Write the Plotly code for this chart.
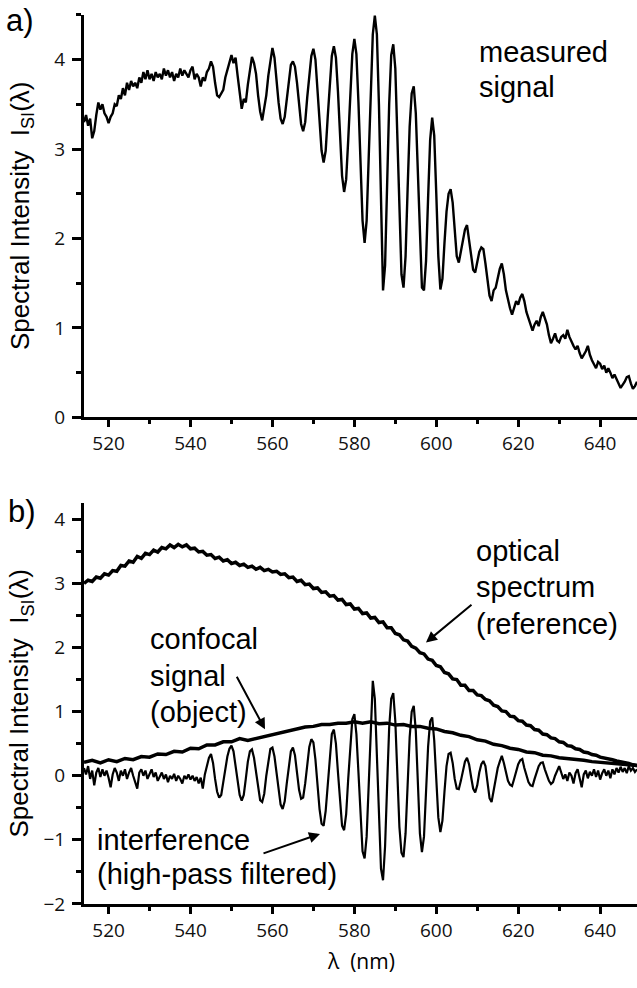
import plotly.graph_objects as go

# ---------------- data ----------------
# panel a) measured signal, sampled every 0.5 nm from 514 to 649 nm
wl_half = [514 + 0.5 * i for i in range(271)]
measured = [
    3.30, 3.38, 3.26, 3.34, 3.12, 3.20, 3.38, 3.52, 3.44, 3.50,
    3.40, 3.36, 3.29, 3.36, 3.40, 3.50, 3.48, 3.60, 3.56, 3.68,
    3.60, 3.74, 3.66, 3.76, 3.70, 3.74, 3.68, 3.80, 3.74, 3.86,
    3.78, 3.88, 3.78, 3.84, 3.76, 3.86, 3.80, 3.84, 3.78, 3.90,
    3.82, 3.88, 3.80, 3.86, 3.76, 3.84, 3.80, 3.90, 3.82, 3.88,
    3.84, 3.80, 3.88, 3.92, 3.78, 3.84, 3.80, 3.70, 3.80, 3.76,
    3.86, 3.90, 3.98, 3.92, 3.74, 3.60, 3.58, 3.62, 3.66, 3.80,
    3.88, 3.98, 4.05, 3.96, 4.02, 3.82, 3.60, 3.45, 3.56, 3.52,
    3.72, 3.90, 4.03, 3.96, 3.84, 3.60, 3.42, 3.32, 3.46, 3.60,
    3.82, 4.00, 4.13, 4.02, 3.76, 3.52, 3.34, 3.28, 3.36, 3.56,
    3.78, 3.94, 3.98, 3.92, 3.74, 3.48, 3.28, 3.20, 3.30, 3.58,
    3.86, 4.04, 4.12, 4.00, 3.66, 3.26, 2.98, 2.85, 2.98, 3.36,
    3.76, 4.04, 4.15, 4.02, 3.64, 3.10, 2.70, 2.52, 2.66, 3.10,
    3.64, 4.06, 4.23, 4.06, 3.52, 2.80, 2.20, 1.95, 2.20, 2.90,
    3.70, 4.28, 4.49, 4.28, 3.50, 2.40, 1.42, 1.70, 2.60, 3.50,
    4.05, 4.17, 3.90, 3.10, 2.20, 1.60, 1.45, 1.80, 2.55, 3.25,
    3.62, 3.70, 3.40, 2.70, 1.90, 1.45, 1.42, 1.75, 2.45, 3.10,
    3.35, 3.15, 2.50, 1.80, 1.43, 1.55, 1.95, 2.30, 2.50, 2.55,
    2.40, 2.05, 1.80, 1.73, 1.85, 1.98, 2.10, 2.15, 2.00, 1.80,
    1.65, 1.62, 1.72, 1.85, 1.90, 1.88, 1.72, 1.50, 1.36, 1.30,
    1.42, 1.45, 1.55, 1.66, 1.72, 1.60, 1.42, 1.30, 1.22, 1.15,
    1.24, 1.30, 1.26, 1.34, 1.38, 1.30, 1.18, 1.10, 1.02, 0.97,
    1.04, 1.08, 1.02, 1.12, 1.18, 1.10, 1.04, 0.92, 0.83, 0.88,
    0.94, 0.86, 0.84, 0.90, 0.92, 0.88, 0.98, 0.90, 0.84, 0.80,
    0.76, 0.80, 0.72, 0.66, 0.70, 0.74, 0.80, 0.70, 0.64, 0.60,
    0.55, 0.62, 0.60, 0.54, 0.58, 0.50, 0.55, 0.50, 0.44, 0.48,
    0.42, 0.38, 0.33, 0.36, 0.40, 0.45, 0.46, 0.38, 0.32, 0.35,
    0.40,
]

# panel b) interference (high-pass filtered), every 0.5 nm
interference = [
    0.12, 0.02, 0.15, -0.05, 0.08, -0.15, 0.05, 0.12, -0.02, 0.10,
    0.00, 0.08, -0.03, -0.18, 0.02, 0.12, 0.05, -0.08, 0.08, 0.00,
    0.10, -0.05, 0.05, 0.12, 0.00, -0.10, -0.20, 0.05, 0.10, 0.00,
    0.08, -0.05, 0.02, 0.10, -0.02, 0.05, -0.08, 0.00, 0.05, -0.05,
    0.02, -0.10, 0.00, -0.05, 0.03, -0.08, 0.00, -0.05, -0.12, 0.00,
    -0.05, 0.02, -0.06, 0.00, -0.08, -0.02, -0.12, -0.03, -0.20, 0.02,
    0.15, 0.28, 0.34, 0.20, -0.05, -0.25, -0.34, -0.30, -0.10, 0.10,
    0.30, 0.42, 0.47, 0.38, 0.15, -0.10, -0.30, -0.39, -0.30, -0.05,
    0.22, 0.38, 0.41, 0.28, 0.05, -0.20, -0.38, -0.41, -0.28, 0.00,
    0.25, 0.42, 0.44, 0.30, 0.05, -0.25, -0.45, -0.52, -0.40, -0.12,
    0.18, 0.38, 0.44, 0.32, 0.05, -0.22, -0.36, -0.34, -0.12, 0.20,
    0.45, 0.57, 0.52, 0.25, -0.15, -0.52, -0.75, -0.78, -0.55, -0.10,
    0.35, 0.65, 0.72, 0.50, 0.05, -0.45, -0.78, -0.85, -0.60, -0.05,
    0.50, 0.88, 0.96, 0.65, 0.05, -0.70, -1.18, -1.29, -0.95, -0.15,
    0.80, 1.48, 1.20, 0.30, -0.80, -1.45, -1.63, -1.10, -0.15, 0.75,
    1.20, 1.29, 0.85, 0.00, -0.80, -1.20, -1.27, -0.90, -0.15, 0.60,
    1.00, 1.09, 0.70, -0.10, -0.90, -1.19, -0.95, -0.25, 0.45, 0.85,
    0.91, 0.55, -0.10, -0.65, -0.88, -0.70, -0.25, 0.15, 0.34, 0.36,
    0.20, -0.05, -0.20, -0.21, -0.08, 0.10, 0.22, 0.28, 0.18, -0.02,
    -0.20, -0.26, -0.15, 0.05, 0.18, 0.23, 0.15, -0.10, -0.35, -0.41,
    -0.22, 0.00, 0.12, 0.22, 0.31, 0.20, 0.05, -0.08, -0.14, -0.16,
    -0.05, 0.08, 0.18, 0.24, 0.26, 0.12, 0.00, -0.10, -0.15, -0.16,
    -0.05, 0.06, 0.15, 0.20, 0.21, 0.10, 0.00, -0.08, -0.13, -0.10,
    0.00, 0.08, 0.15, 0.05, -0.05, 0.02, -0.08, 0.05, 0.00, -0.12,
    0.04, 0.10, -0.05, -0.18, 0.02, 0.08, -0.04, 0.06, 0.00, 0.10,
    -0.02, 0.08, -0.06, 0.04, 0.10, 0.00, 0.08, -0.04, 0.10, 0.02,
    0.12, 0.05, 0.14, 0.06, 0.12, 0.04, 0.15, 0.08, 0.12, 0.06,
    0.10,
]

# panel b) optical spectrum (reference), every 1 nm from 514 to 649
wl_one = [514 + i for i in range(136)]
reference = [
    3.00, 3.05, 3.03, 3.10, 3.08, 3.15, 3.13, 3.20, 3.19, 3.28,
    3.27, 3.35, 3.33, 3.42, 3.39, 3.47, 3.45, 3.52, 3.49, 3.56,
    3.54, 3.60, 3.56, 3.61, 3.57, 3.60, 3.54, 3.55, 3.49, 3.50,
    3.44, 3.45, 3.39, 3.41, 3.35, 3.37, 3.31, 3.33, 3.28, 3.30,
    3.25, 3.27, 3.22, 3.25, 3.20, 3.22, 3.18, 3.19, 3.14, 3.15,
    3.09, 3.10, 3.03, 3.05, 2.98, 2.99, 2.92, 2.93, 2.86, 2.87,
    2.80, 2.81, 2.74, 2.75, 2.67, 2.68, 2.60, 2.61, 2.53, 2.54,
    2.46, 2.47, 2.39, 2.40, 2.31, 2.31, 2.22, 2.20, 2.12, 2.10,
    2.02, 1.99, 1.92, 1.90, 1.82, 1.80, 1.72, 1.70, 1.61, 1.59,
    1.51, 1.50, 1.41, 1.41, 1.33, 1.33, 1.26, 1.25, 1.19, 1.17,
    1.10, 1.08, 1.01, 1.00, 0.93, 0.92, 0.86, 0.85, 0.79, 0.78,
    0.72, 0.71, 0.65, 0.64, 0.59, 0.58, 0.53, 0.52, 0.47, 0.46,
    0.42, 0.41, 0.37, 0.36, 0.33, 0.32, 0.29, 0.28, 0.26, 0.25,
    0.23, 0.22, 0.20, 0.19, 0.17, 0.16,
]

# panel b) confocal signal (object), every 2 nm from 514 to 648, plus 649
wl_two = [514 + 2 * i for i in range(68)] + [649]
confocal = [
    0.21, 0.24, 0.20, 0.25, 0.22, 0.27, 0.25, 0.30, 0.29, 0.34,
    0.33, 0.38, 0.37, 0.43, 0.42, 0.48, 0.48, 0.53, 0.53, 0.58,
    0.55, 0.58, 0.60, 0.63, 0.66, 0.70, 0.72, 0.76, 0.77, 0.80,
    0.80, 0.82, 0.82, 0.84, 0.82, 0.84, 0.81, 0.82, 0.79, 0.80,
    0.77, 0.77, 0.74, 0.73, 0.69, 0.67, 0.63, 0.61, 0.56, 0.54,
    0.49, 0.47, 0.43, 0.41, 0.37, 0.36, 0.32, 0.31, 0.28, 0.27,
    0.25, 0.24, 0.22, 0.21, 0.19, 0.18, 0.17, 0.16,
    0.16,
]

x_ticks = [520, 540, 560, 580, 600, 620, 640]
y_ticks_a = [0, 1, 2, 3, 4]
y_ticks_b = [-2, -1, 0, 1, 2, 3, 4]

# ---------------- figure ----------------
W, H = 637, 988


def px(x):
    return x / W


def py(y):
    return 1 - y / H


fig = go.Figure()
fig.add_trace(go.Scatter(x=wl_half, y=measured, mode="lines",
                         line=dict(color="black", width=2.4), xaxis="x", yaxis="y"))
fig.add_trace(go.Scatter(x=wl_one, y=reference, mode="lines",
                         line=dict(color="black", width=3.5), xaxis="x2", yaxis="y2"))
fig.add_trace(go.Scatter(x=wl_two, y=confocal, mode="lines",
                         line=dict(color="black", width=3.5), xaxis="x2", yaxis="y2"))
fig.add_trace(go.Scatter(x=wl_half, y=interference, mode="lines",
                         line=dict(color="black", width=2.2), xaxis="x2", yaxis="y2"))

tickfont = dict(family="Open Sans", size=19, color="#111")
common_x = dict(range=[514, 649], tickvals=x_ticks, ticks="outside", ticklen=7,
                tickwidth=2.5, tickcolor="black", showline=True, linewidth=3,
                linecolor="black", showgrid=False, zeroline=False, tickfont=tickfont,
                minor=dict(dtick=10, tick0=510, ticks="outside", ticklen=4,
                           tickwidth=2.5, tickcolor="black"))
common_y = dict(ticks="outside", ticklen=9, tickwidth=2.5, tickcolor="black",
                showline=True, linewidth=3, linecolor="black", showgrid=False,
                zeroline=False, tickfont=tickfont, ticklabelstandoff=3,
                minor=dict(dtick=0.5, ticks="outside", ticklen=5, tickwidth=2.5,
                           tickcolor="black"))

fig.update_layout(
    width=W, height=H, margin=dict(l=0, r=0, t=0, b=0),
    paper_bgcolor="white", plot_bgcolor="white", showlegend=False,
    xaxis=dict(domain=[px(84), 1], anchor="y", **common_x),
    yaxis=dict(domain=[py(423), py(15)], anchor="x", range=[0, 4.5],
               tickvals=y_ticks_a, **common_y),
    xaxis2=dict(domain=[px(84), 1], anchor="y2", **common_x),
    yaxis2=dict(domain=[py(916), py(510)], anchor="x2", range=[-2, 4.25],
                tickvals=y_ticks_b, **common_y),
)

ann = []


def text(s, x, y, xanchor="left", size=29, family="Liberation Sans", angle=0):
    ann.append(dict(text=s, x=px(x), y=py(y), xref="paper", yref="paper",
                    xanchor=xanchor, yanchor="middle", showarrow=False,
                    textangle=angle,
                    font=dict(family=family, size=size, color="black")))


def arrow(hx, hy, tx, ty):
    ann.append(dict(text="", x=px(hx), y=py(hy), xref="paper", yref="paper",
                    ax=tx - hx, ay=ty - hy, axref="pixel", ayref="pixel",
                    showarrow=True, arrowhead=2, arrowsize=1.1, arrowwidth=2,
                    arrowcolor="black"))


text("a)", 4, 21, size=31)
text("b)", 6, 518, size=31)
text("measured", 477, 53)
text("signal", 477, 88)
text("optical", 474, 558)
text("spectrum", 474, 595)
text("(reference)", 474, 632)
text("confocal", 148, 648)
text("signal", 148, 685)
text("(object)", 148, 721)
text("interference", 95, 851)
text("(high-pass filtered)", 95, 886)

ytitle = "Spectral Intensity\u00a0\u00a0I<sub>SI</sub>(λ)"
text(ytitle, 21, 219, xanchor="center", size=26, angle=-90)
text(ytitle, 21, 713, xanchor="center", size=26, angle=-90)
text("λ\u00a0 (nm)", 361, 974, xanchor="center", size=21, family="Open Sans")

arrow(426, 651, 473, 612)
arrow(265, 739, 236, 685)
arrow(320, 845, 262, 865)

fig.update_layout(annotations=ann)
fig.write_html("out.html")
